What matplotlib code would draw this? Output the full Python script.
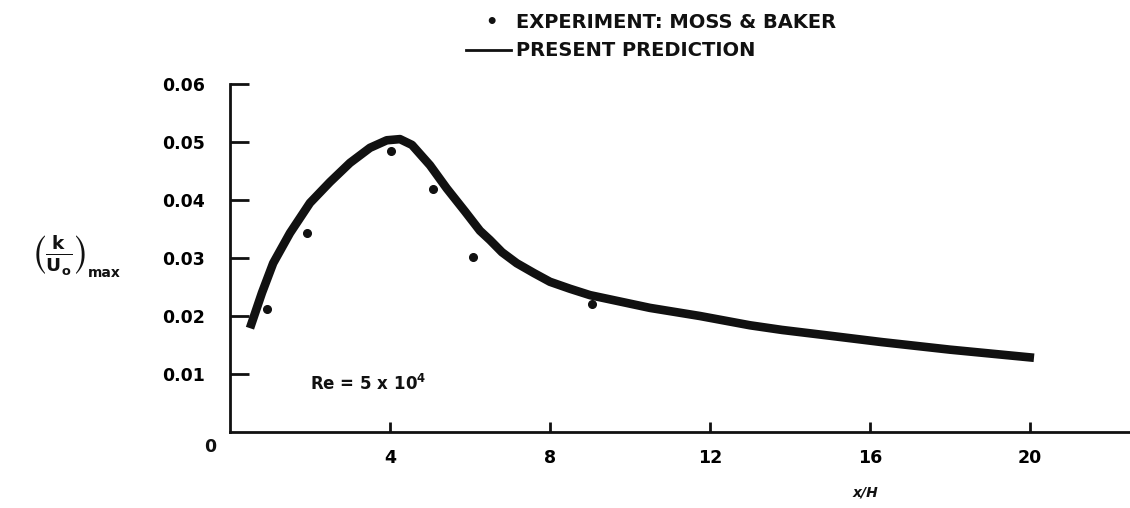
import matplotlib.pyplot as plt

# present prediction (curve)
pred_x = [0.5, 0.8, 1.08, 1.5, 2.0, 2.5, 3.0, 3.5, 3.92, 4.25, 4.55, 5.0, 5.42,
          5.88, 6.25, 6.5, 6.8, 7.17, 7.6, 8.0, 8.5, 9.0, 10.5, 11.75, 13.0,
          13.8, 15.0, 16.3, 18.0, 20.1]
pred_y = [0.0179, 0.0240, 0.0291, 0.0343, 0.0395, 0.0431, 0.0464, 0.0490, 0.0503,
          0.0505, 0.0495, 0.0460, 0.0420, 0.0380, 0.0347, 0.0331, 0.0310, 0.0291,
          0.0274, 0.0259, 0.0247, 0.0236, 0.0214, 0.0200, 0.0184, 0.0176, 0.0166,
          0.0155, 0.0142, 0.0128]

# experiment: Moss & Baker
exp_x = [0.92, 1.93, 4.02, 5.07, 6.07, 9.04]
exp_y = [0.0212, 0.0343, 0.0484, 0.0419, 0.0302, 0.0221]

xticks = [4, 8, 12, 16, 20]
yticks = [0.01, 0.02, 0.03, 0.04, 0.05, 0.06]

ink = '#111111'
plt.rcParams['font.family'] = 'DejaVu Sans'
plt.rcParams['font.weight'] = 'bold'

fig = plt.figure(figsize=(11.3, 5.08), dpi=100)
ax = fig.add_axes([0.2035, 0.1496, 0.7965, 0.685])

ax.plot(pred_x, pred_y, color=ink, linewidth=6.2, solid_capstyle='butt',
        solid_joinstyle='round')
ax.plot(exp_x, exp_y, 'o', color=ink, markersize=5.5)

ax.set_xlim(0, 22.5)
ax.set_ylim(0, 0.06)

for side in ['top', 'right']:
    ax.spines[side].set_visible(False)
for side in ['left', 'bottom']:
    ax.spines[side].set_linewidth(2)
    ax.spines[side].set_color(ink)

ax.set_xticks(xticks)
ax.set_xticklabels([str(t) for t in xticks], fontsize=12.5, fontweight='bold')
ax.set_yticks(yticks)
ax.set_yticklabels(['%.2f' % t for t in yticks], fontsize=12.5, fontweight='bold')
ax.tick_params(axis='x', direction='in', length=7, width=2, color=ink, pad=12)
ax.tick_params(axis='y', direction='in', length=14, width=2, color=ink, pad=18)

# origin label
ax.text(-0.5, -0.0025, '0', fontsize=12.5, fontweight='bold', ha='center', va='center',
        color=ink, clip_on=False)

ax.text(2.0, 0.0083, 'Re = 5 x 10$^4$', fontsize=12, fontweight='bold', color=ink,
        va='center')

fig.text(0.766, 0.022, 'x/H', fontsize=10, fontweight='bold', style='italic', color=ink,
         ha='center')

fig.text(0.053, 0.498, r'$\left(\frac{\mathbf{k}}{\mathbf{U_o}}\right)$',
         fontsize=19, color=ink, ha='center', va='center')
fig.text(0.092, 0.462, 'max', fontsize=10, fontweight='bold', color=ink,
         ha='center', va='center')

# legend drawn at the top
fig.text(0.435, 0.955, '•', fontsize=14, color=ink, ha='center', va='center')
fig.text(0.457, 0.955, 'EXPERIMENT: MOSS & BAKER', fontsize=14, fontweight='bold',
         color=ink, ha='left', va='center')
fig.add_artist(plt.Line2D([0.412, 0.452], [0.901, 0.901], color=ink, linewidth=2,
                          transform=fig.transFigure))
fig.text(0.457, 0.901, 'PRESENT PREDICTION', fontsize=14, fontweight='bold',
         color=ink, ha='left', va='center')

fig.savefig('out.png', dpi=100)
